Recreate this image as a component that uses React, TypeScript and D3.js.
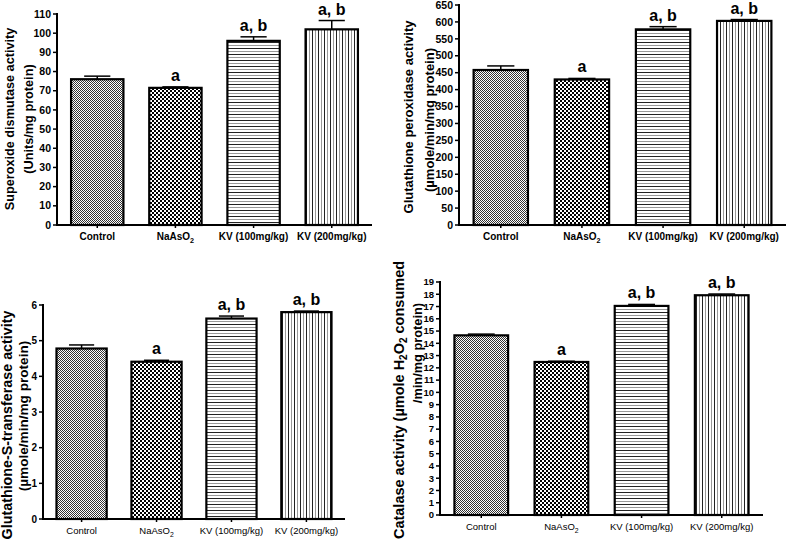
import React from 'react';
import * as d3 from 'd3';

const categories = ['Control', 'NaAsO2', 'KV (100mg/kg)', 'KV (200mg/kg)'];
const sigLabels = ['', 'a', 'a, b', 'a, b'];

const sodValues = [76, 71.5, 96, 102];
const sodErrors = [1.6, 0.5, 2.1, 4.6];
const sodTicks = [0, 10, 20, 30, 40, 50, 60, 70, 80, 90, 100, 110];

const gpxValues = [458, 430, 578, 603];
const gpxErrors = [12, 3, 8, 4];
const gpxTicks = [0, 50, 100, 150, 200, 250, 300, 350, 400, 450, 500, 550, 600, 650];

const gstValues = [4.78, 4.41, 5.62, 5.8];
const gstErrors = [0.1, 0.04, 0.07, 0.03];
const gstTicks = [0, 1, 2, 3, 4, 5, 6];

const catValues = [14.65, 12.48, 17.05, 17.92];
const catErrors = [0.1, 0.06, 0.12, 0.1];
const catTicks = [0, 1, 2, 3, 4, 5, 6, 7, 8, 9, 10, 11, 12, 13, 14, 15, 16, 17, 18, 19];

const FONT = '"Liberation Sans", Arial, sans-serif';
const patterns = ['pat-fine', 'pat-check', 'pat-hlines', 'pat-vlines'];

type YLabelLine = { text: React.ReactNode; x: number; y: number; size: number };

type PanelProps = {
  values: number[];
  errors: number[];
  ticks: number[];
  x0: number;
  x1: number;
  yTop: number;
  yBottom: number;
  yLabels: YLabelLine[];
  xLabelBold: boolean;
  xLabelSize: number;
  tickSize: number;
};

function Panel({ values, errors, ticks, x0, x1, yTop, yBottom, yLabels, xLabelBold, xLabelSize, tickSize }: PanelProps) {
  const x = d3.scaleBand<string>().domain(categories).range([x0, x1]).paddingInner(0.33).paddingOuter(0.18);
  const y = d3.scaleLinear().domain([0, ticks[ticks.length - 1]]).range([yBottom, yTop]);
  const bw = x.bandwidth();
  return (
    <g fontFamily={FONT}>
      {categories.map((c, i) => {
        const bx = x(c)!;
        const cx = bx + bw / 2;
        const top = y(values[i]);
        const et = y(values[i] + errors[i]);
        const capW = bw * 0.25;
        return (
          <g key={c}>
            <rect x={bx} y={top} width={bw} height={yBottom - top} fill={`url(#${patterns[i]})`} stroke="#000" strokeWidth={2.2} />
            <line x1={cx} x2={cx} y1={top} y2={et} stroke="#000" strokeWidth={1.5} />
            <line x1={cx - capW} x2={cx + capW} y1={et} y2={et} stroke="#000" strokeWidth={1.5} />
            {sigLabels[i] && (
              <text x={cx} y={et - 6} textAnchor="middle" fontSize={16} fontWeight="bold">
                {sigLabels[i]}
              </text>
            )}
            <line x1={cx} x2={cx} y1={yBottom} y2={yBottom + 3} stroke="#000" strokeWidth={1.5} />
            <text x={cx} y={yBottom + 15} textAnchor="middle" fontSize={xLabelSize} fontWeight={xLabelBold ? 'bold' : 'normal'}>
              {c === 'NaAsO2' ? (
                <>
                  NaAsO<tspan fontSize={xLabelSize * 0.72} dy={3}>2</tspan>
                </>
              ) : (
                c
              )}
            </text>
          </g>
        );
      })}
      {/* Y axis */}
      <line x1={x0} x2={x0} y1={yTop - 1} y2={yBottom + 1} stroke="#000" strokeWidth={2} />
      {ticks.map((t) => (
        <g key={t}>
          <line x1={x0 - 4} x2={x0} y1={y(t)} y2={y(t)} stroke="#000" strokeWidth={1.5} />
          <text x={x0 - 6} y={y(t)} dy="0.35em" textAnchor="end" fontSize={tickSize} fontWeight="bold">
            {t}
          </text>
        </g>
      ))}
      {/* X axis */}
      <line x1={x0 - 1} x2={x1} y1={yBottom} y2={yBottom} stroke="#000" strokeWidth={2} />
      {yLabels.map((l, i) => (
        <text
          key={i}
          transform={`translate(${l.x},${l.y}) rotate(-90)`}
          textAnchor="middle"
          fontSize={l.size}
          fontWeight="bold"
        >
          {l.text}
        </text>
      ))}
    </g>
  );
}

export default function App() {
  return (
    <svg width={787} height={544} style={{ position: 'absolute', left: 0, top: 0, background: '#fff' }}>
      <defs>
        <pattern id="pat-fine" width={2} height={2} patternUnits="userSpaceOnUse">
          <rect width={2} height={2} fill="#fff" />
          <rect width={1} height={1} fill="#333" />
          <rect x={1} y={1} width={1} height={1} fill="#333" />
        </pattern>
        <pattern id="pat-check" width={4} height={4} patternUnits="userSpaceOnUse">
          <rect width={4} height={4} fill="#fff" />
          <rect width={2} height={2} fill="#000" />
          <rect x={2} y={2} width={2} height={2} fill="#000" />
        </pattern>
        <pattern id="pat-hlines" width={6} height={6} patternUnits="userSpaceOnUse">
          <rect width={6} height={6} fill="#fff" />
          <rect y={0} width={6} height={1} fill="#222" />
          <rect y={3} width={6} height={1} fill="#999" />
        </pattern>
        <pattern id="pat-vlines" width={6} height={6} patternUnits="userSpaceOnUse">
          <rect width={6} height={6} fill="#fff" />
          <rect x={0} width={1} height={6} fill="#222" />
          <rect x={3} width={1} height={6} fill="#999" />
        </pattern>
      </defs>
      <Panel
        values={sodValues}
        errors={sodErrors}
        ticks={sodTicks}
        x0={57}
        x1={372}
        yTop={14}
        yBottom={225}
        tickSize={10.5}
        xLabelBold={true}
        xLabelSize={10}
        yLabels={[
          { text: 'Superoxide dismutase activity', x: 14, y: 119, size: 12.7 },
          { text: '(Units/mg protein)', x: 33, y: 119, size: 12.7 },
        ]}
      />
      <Panel
        values={gpxValues}
        errors={gpxErrors}
        ticks={gpxTicks}
        x0={459}
        x1={786}
        yTop={5}
        yBottom={225}
        tickSize={10.5}
        xLabelBold={true}
        xLabelSize={10}
        yLabels={[
          { text: 'Glutathione peroxidase activity', x: 413, y: 117, size: 13 },
          { text: '(µmole/min/mg protein)', x: 434, y: 120, size: 13 },
        ]}
      />
      <Panel
        values={gstValues}
        errors={gstErrors}
        ticks={gstTicks}
        x0={43}
        x1={345}
        yTop={305}
        yBottom={519}
        tickSize={10}
        xLabelBold={false}
        xLabelSize={9.5}
        yLabels={[
          { text: 'Glutathione-S-transferase activity', x: 12, y: 425, size: 14.3 },
          { text: '(µmole/min/mg protein)', x: 28, y: 416, size: 13.6 },
        ]}
      />
      <Panel
        values={catValues}
        errors={catErrors}
        ticks={catTicks}
        x0={440}
        x1={763}
        yTop={282}
        yBottom={515}
        tickSize={9.5}
        xLabelBold={false}
        xLabelSize={9.5}
        yLabels={[
          {
            text: (
              <>
                Catalase activity (µmole H<tspan fontSize={10} dy={3}>2</tspan>
                <tspan dy={-3}>O</tspan>
                <tspan fontSize={10} dy={3}>2</tspan>
                <tspan dy={-3}> consumed</tspan>
              </>
            ),
            x: 404,
            y: 400,
            size: 14.5,
          },
          { text: '/min/mg protein)', x: 422, y: 353, size: 12.8 },
        ]}
      />
    </svg>
  );
}
